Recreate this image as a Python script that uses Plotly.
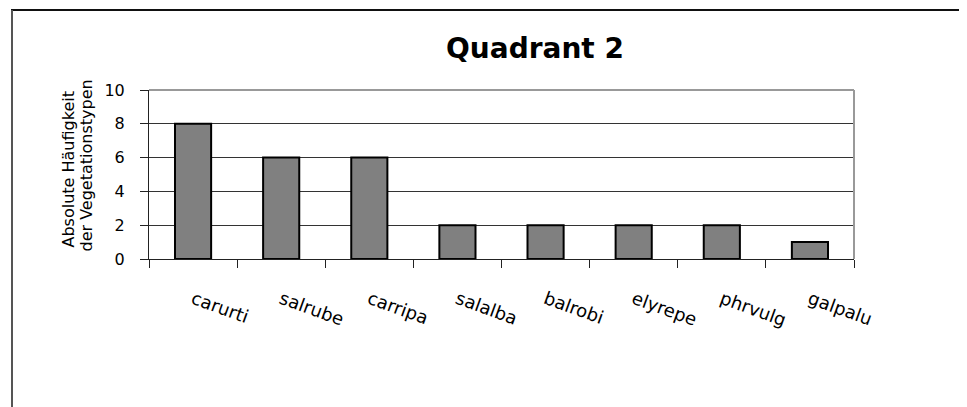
import plotly.graph_objects as go

# Vegetation types counted in quadrant 2
species = ["carurti", "salrube", "carripa", "salalba", "balrobi", "elyrepe", "phrvulg", "galpalu"]
counts = [8, 6, 6, 2, 2, 2, 2, 1]
y_ticks = [0, 2, 4, 6, 8, 10]

W, H = 967, 407
OFF = 8  # page body margin, screen px -> figure px
L, R, T, B = 149 - OFF, W - (854 - OFF), 90 - OFF, H - (259 - OFF)
pw, ph = W - L - R, H - T - B

def px_x(x):
    # screen x pixel -> paper coordinate
    return (x - OFF - L) / pw

def px_y(y):
    return (H - B - (y - OFF)) / ph

fig = go.Figure(go.Bar(
    x=species,
    y=counts,
    width=0.41,
    marker=dict(color="#808080", line=dict(color="#000000", width=2)),
))

fig.update_layout(
    width=W, height=H,
    margin=dict(l=L, r=R, t=T, b=B),
    paper_bgcolor="white",
    plot_bgcolor="white",
    showlegend=False,
    font=dict(family="DejaVu Sans", color="#000000"),
    title=dict(text="<b>Quadrant 2</b>", x=(535 - OFF) / W, xanchor="center",
               y=1 - (48 - OFF) / H, yanchor="middle",
               font=dict(size=28, family="DejaVu Sans", color="#000000")),
)

fig.update_xaxes(
    showline=True, linecolor="#222222", linewidth=1,
    ticks="outside", tickson="boundaries", ticklen=8, tickcolor="#222222",
    tickangle=20, ticklabelstandoff=22,
    tickfont=dict(size=18, family="DejaVu Sans"),
    showgrid=False,
)
fig.update_yaxes(
    range=[0, 10], tickvals=y_ticks,
    showline=True, linecolor="#222222", linewidth=1,
    ticks="outside", ticklen=8, tickcolor="#222222",
    ticklabelstandoff=12,
    showgrid=True, gridcolor="#333333", gridwidth=1,
    tickfont=dict(size=16, family="DejaVu Sans"),
    zeroline=False,
)

# y-axis title as two tight lines
for txt, cx, cy in [("Absolute Häufigkeit", 67.5, 170), ("der Vegetationstypen", 85.5, 166)]:
    fig.add_annotation(
        text=txt, textangle=-90, showarrow=False,
        xref="paper", yref="paper", x=px_x(cx), y=px_y(cy),
        xanchor="center", yanchor="middle",
        font=dict(size=16, family="DejaVu Sans"),
    )

# gray plot-area frame (top and right)
fig.add_shape(type="line", xref="paper", yref="paper", x0=0, x1=1, y0=1, y1=1,
              line=dict(color="#999999", width=2), layer="above")
fig.add_shape(type="line", xref="paper", yref="paper", x0=1, x1=1, y0=0, y1=1,
              line=dict(color="#999999", width=2), layer="above")

# outer chart border (top and left visible)
fig.add_shape(type="line", xref="paper", yref="paper",
              x0=px_x(11), x1=px_x(990), y0=px_y(10), y1=px_y(10),
              line=dict(color="#111111", width=2))
fig.add_shape(type="line", xref="paper", yref="paper",
              x0=px_x(12), x1=px_x(12), y0=px_y(10), y1=px_y(430),
              line=dict(color="#555555", width=2))

fig.write_html("out.html")
